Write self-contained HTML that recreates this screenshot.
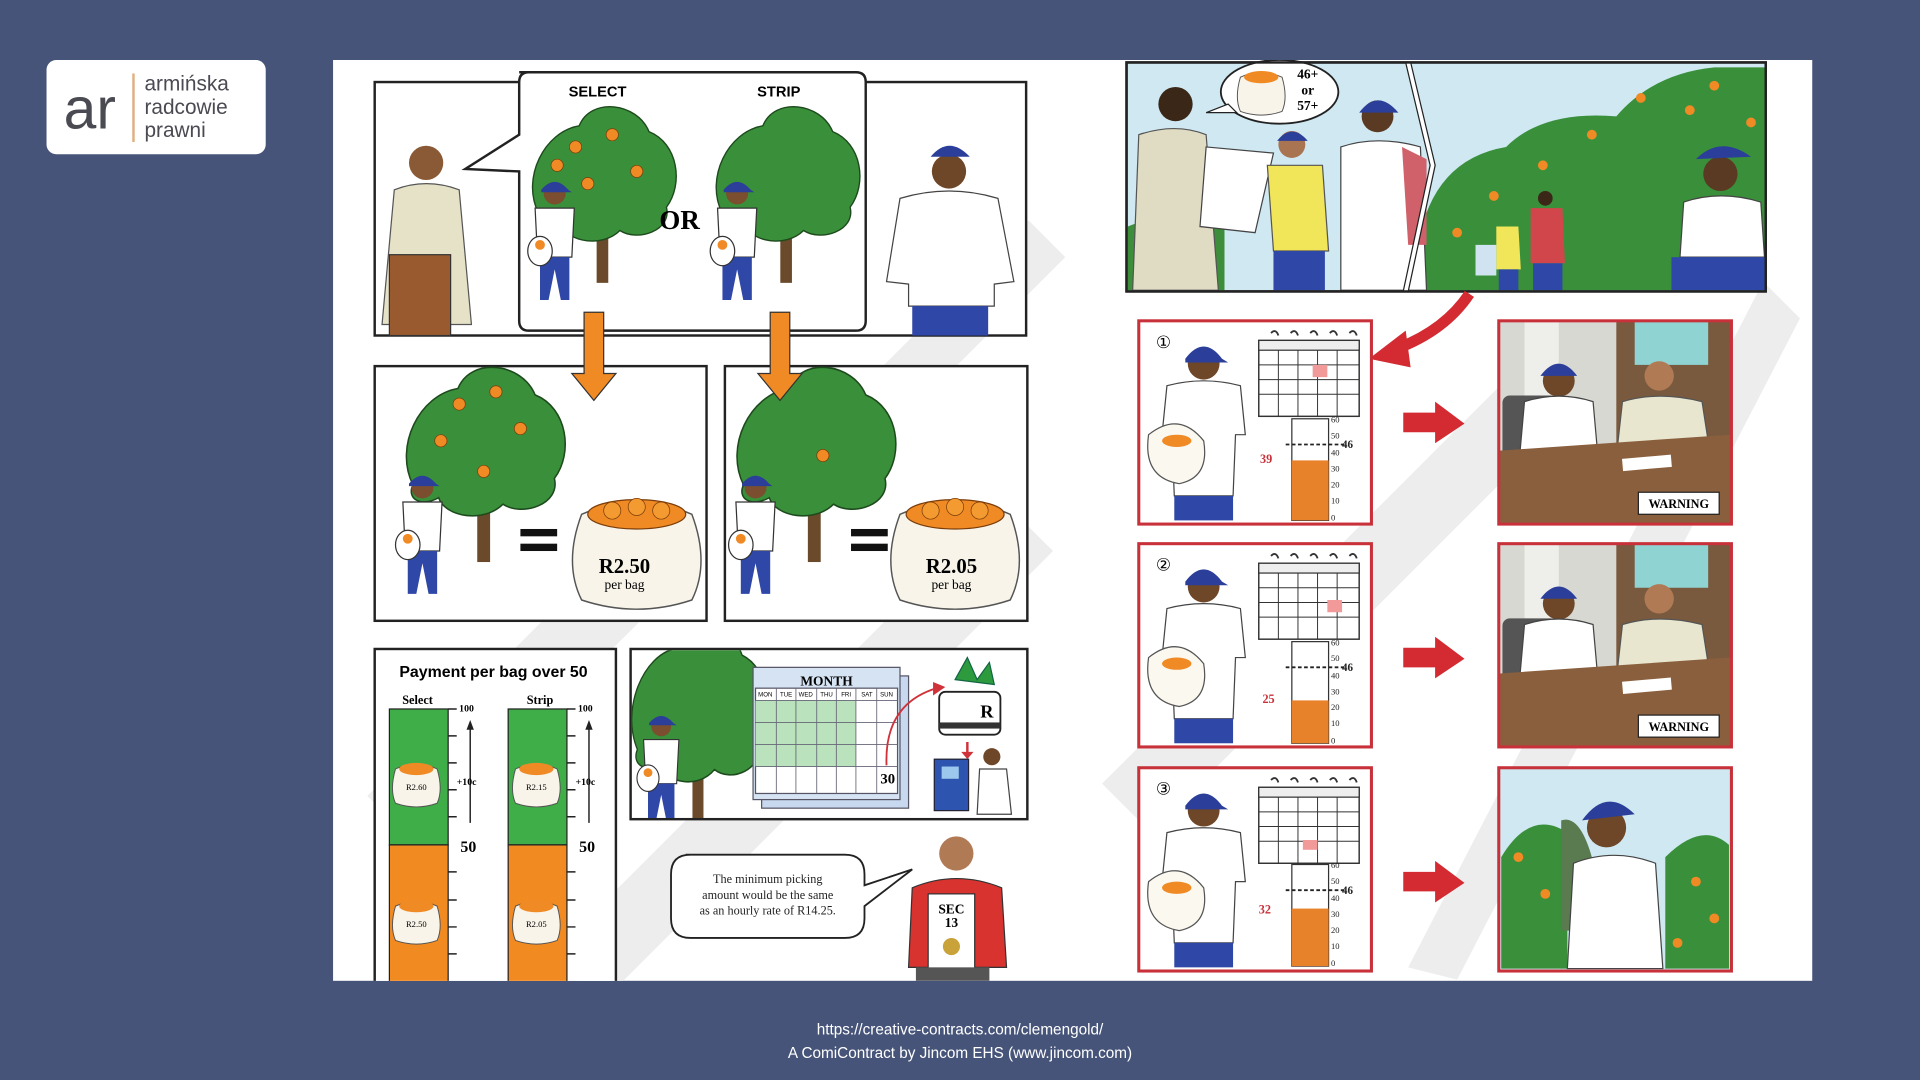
<!DOCTYPE html>
<html><head><meta charset="utf-8"><style>
html,body{margin:0;padding:0;background:#465479;width:1920px;height:1080px;overflow:hidden}
svg{display:block}
</style></head><body>
<svg width="1920" height="1080" viewBox="0 0 1568 882" xmlns="http://www.w3.org/2000/svg" font-family="Liberation Serif, serif">
<defs>
<clipPath id="pg"><rect x="272" y="49" width="1208" height="752"/></clipPath>
<g id="tree">
 <rect x="-5" y="10" width="10" height="70" fill="#6b4a2b"/>
 <path d="M-55 20 C-70 -10 -50 -50 -20 -55 C-10 -80 30 -75 40 -50 C65 -40 70 -5 55 15 C60 35 30 45 15 35 C0 50 -30 45 -35 30 C-50 38 -60 30 -55 20Z" fill="#3a8f3a" stroke="#1d4a1d" stroke-width="1.2"/>
</g>
<g id="orng"><circle r="5" fill="#f08a24" stroke="#7a3d0a" stroke-width=".6"/></g>
<g id="picker">
 <circle cx="0" cy="-52" r="9" fill="#7a4e2e"/>
 <path d="M-11 -55 Q0 -68 11 -55 L14 -53 L-11 -53Z" fill="#2b3e9a"/>
 <path d="M-16 -40 L16 -40 L14 0 L-14 0Z" fill="#fff" stroke="#333" stroke-width="1"/>
 <path d="M-12 0 L-12 35 L-5 35 L0 10 L5 35 L12 35 L12 0Z" fill="#2f48a8"/>
 <ellipse cx="-12" cy="-5" rx="10" ry="12" fill="#fff" stroke="#333" stroke-width="1"/>
 <circle cx="-12" cy="-10" r="4" fill="#f08a24"/>
</g>
<g id="bag">
 <path d="M-45 -30 Q0 -50 45 -30 Q60 10 45 40 Q0 55 -45 40 Q-60 10 -45 -30Z" fill="#f8f4ea" stroke="#555" stroke-width="1.2"/>
 <ellipse cx="0" cy="-30" rx="40" ry="12" fill="#f08a24" stroke="#7a3d0a" stroke-width="1"/>
 <circle cx="-20" cy="-33" r="7" fill="#f39a30" stroke="#7a3d0a" stroke-width=".6"/>
 <circle cx="0" cy="-36" r="7" fill="#f39a30" stroke="#7a3d0a" stroke-width=".6"/>
 <circle cx="20" cy="-33" r="7" fill="#f39a30" stroke="#7a3d0a" stroke-width=".6"/>
</g>
<g id="minibag">
 <path d="M-17 -12 Q0 -20 17 -12 Q22 5 17 16 Q0 22 -17 16 Q-22 5 -17 -12Z" fill="#f8f4ea" stroke="#555" stroke-width=".8"/>
 <ellipse cx="0" cy="-12" rx="14" ry="5" fill="#f08a24"/>
</g>
<g id="cal">
 <rect x="0" y="8" width="82" height="62" fill="#fff" stroke="#333" stroke-width="1.2"/>
 <rect x="0" y="8" width="82" height="8" fill="#eee" stroke="#333" stroke-width="1"/>
 <path d="M0 28H82M0 40H82M0 52H82M16 16V70M32 16V70M48 16V70M64 16V70" stroke="#333" stroke-width=".8"/>
 <path d="M10 2 q4 -4 6 2 M26 2 q4 -4 6 2 M42 2 q4 -4 6 2 M58 2 q4 -4 6 2 M74 2 q4 -4 6 2" stroke="#333" stroke-width="1.5" fill="none"/>
</g>
<g id="worker">
 <circle cx="0" cy="-58" r="13" fill="#6e4628"/>
 <path d="M-15 -62 Q0 -82 15 -62 L20 -59 L-15 -59Z" fill="#2b3e9a"/>
 <path d="M-30 -40 Q0 -48 30 -40 L34 0 L26 0 L24 50 L-24 50 L-26 0 L-34 0Z" fill="#fff" stroke="#444" stroke-width="1"/>
 <rect x="-24" y="50" width="48" height="20" fill="#2f48a8"/>
 <path d="M-45 0 Q-20 -20 0 5 Q5 35 -20 40 Q-50 35 -45 0Z" fill="#fbf8f0" stroke="#555" stroke-width="1"/>
 <ellipse cx="-22" cy="5" rx="12" ry="5" fill="#f08a24"/>
</g>
<g id="office">
 <rect x="0" y="0" width="188" height="164" fill="#d8d8d2"/>
 <rect x="20" y="0" width="28" height="100" fill="#eeeeea"/>
 <rect x="95" y="0" width="93" height="164" fill="#7a5a3e"/>
 <rect x="110" y="0" width="60" height="35" fill="#8fd3d3"/>
 <rect x="2" y="60" width="45" height="60" rx="6" fill="#555"/>
 <circle cx="48" cy="48" r="13" fill="#6e4628"/>
 <path d="M33 44 Q48 24 63 44Z" fill="#2b3e9a"/>
 <path d="M20 65 Q48 56 76 65 L80 110 L16 110Z" fill="#fff" stroke="#444"/>
 <circle cx="130" cy="44" r="12" fill="#b07a54"/>
 <path d="M100 65 Q130 56 165 65 L172 110 L95 110Z" fill="#e8e6cf" stroke="#555"/>
 <path d="M0 105 L188 92 L188 164 L0 164Z" fill="#8a5f3d"/>
 <rect x="100" y="110" width="40" height="10" fill="#fff" transform="rotate(-5 120 115)"/>
</g>
</defs>

<!-- logo -->
<rect x="38" y="49" width="179" height="77" rx="8" fill="#fff"/>
<text x="52" y="105" font-family="Liberation Sans, sans-serif" font-size="48" fill="#4a4a52">ar</text>
<rect x="108" y="60" width="2" height="56" fill="#e0b080"/>
<text font-family="Liberation Sans, sans-serif" font-size="17" fill="#4a4a52"><tspan x="118" y="74">armińska</tspan><tspan x="118" y="93">radcowie</tspan><tspan x="118" y="112">prawni</tspan></text>

<!-- main page -->
<rect x="272" y="49" width="1208" height="752" fill="#fff"/>
<g clip-path="url(#pg)">
<!-- watermark -->
<g fill="#ededed">
 <path d="M300 650 L520 430 L560 470 L340 690Z"/>
 <path d="M450 780 L820 410 L860 450 L490 820Z"/>
 <path d="M900 640 L1250 290 L1290 330 L940 680Z"/>
 <path d="M1150 790 L1440 230 L1470 260 L1190 800Z"/>
 <path d="M620 400 L840 180 L870 210 L650 430Z"/>
</g>

<!-- top-left panel -->
<rect x="306" y="67" width="532" height="207" fill="#fff" stroke="#222" stroke-width="2"/>
<path d="M424 59 H699 Q707 59 707 67 V262 Q707 270 699 270 H432 Q424 270 424 262 V140 L380 138 L424 110 V67 Q424 59 432 59Z" fill="#fff" stroke="#222" stroke-width="2"/>
<text x="488" y="79" font-size="12" font-weight="bold" text-anchor="middle" font-family="Liberation Sans, sans-serif">SELECT</text>
<text x="636" y="79" font-size="12" font-weight="bold" text-anchor="middle" font-family="Liberation Sans, sans-serif">STRIP</text>
<use href="#tree" transform="translate(492,155) scale(.95)"/>
<use href="#tree" transform="translate(642,155) scale(.95)"/>
<use href="#orng" x="470" y="120"/><use href="#orng" x="500" y="110"/><use href="#orng" x="520" y="140"/><use href="#orng" x="480" y="150"/><use href="#orng" x="455" y="135"/>
<use href="#picker" transform="translate(453,210)"/>
<use href="#picker" transform="translate(602,210)"/>
<text x="555" y="187" font-size="22" font-weight="bold" text-anchor="middle">OR</text>
<circle cx="348" cy="133" r="14" fill="#8a5a36"/>
<path d="M322 155 Q348 145 375 155 L385 265 L312 265Z" fill="#e6e2c8" stroke="#555"/>
<rect x="318" y="208" width="50" height="66" fill="#9a5a30" stroke="#333"/>
<circle cx="775" cy="140" r="14" fill="#6e4628"/>
<path d="M760 128 Q775 110 792 128Z" fill="#2b3e9a"/>
<path d="M735 162 Q775 150 815 162 L828 230 L812 232 L812 250 L742 250 L742 232 L724 230Z" fill="#fff" stroke="#444"/>
<rect x="745" y="250" width="62" height="24" fill="#2f48a8"/>

<!-- middle panels -->
<rect x="306" y="299" width="271" height="208" fill="#fff" stroke="#222" stroke-width="2"/>
<rect x="592" y="299" width="247" height="208" fill="#fff" stroke="#222" stroke-width="2"/>
<use href="#tree" transform="translate(395,375) scale(1.05)"/>
<use href="#tree" transform="translate(665,375) scale(1.05)"/>
<use href="#orng" x="375" y="330"/><use href="#orng" x="405" y="320"/><use href="#orng" x="425" y="350"/><use href="#orng" x="360" y="360"/><use href="#orng" x="395" y="385"/><use href="#orng" x="672" y="372"/>
<use href="#picker" transform="translate(345,450)"/>
<use href="#picker" transform="translate(617,450)"/>
<rect x="425" y="432" width="30" height="6" fill="#111"/><rect x="425" y="444" width="30" height="6" fill="#111"/>
<rect x="695" y="432" width="30" height="6" fill="#111"/><rect x="695" y="444" width="30" height="6" fill="#111"/>
<use href="#bag" transform="translate(520,450)"/>
<use href="#bag" transform="translate(780,450)"/>
<text x="510" y="468" font-size="17" font-weight="bold" text-anchor="middle">R2.50</text>
<text x="510" y="481" font-size="11" text-anchor="middle">per bag</text>
<text x="777" y="468" font-size="17" font-weight="bold" text-anchor="middle">R2.05</text>
<text x="777" y="481" font-size="11" text-anchor="middle">per bag</text>
<!-- orange arrows (on top) -->
<path d="M477 255 H493 V305 H503 L485 327 L467 305 H477Z" fill="#f08a24" stroke="#333"/>
<path d="M629 255 H645 V305 H655 L637 327 L619 305 H629Z" fill="#f08a24" stroke="#333"/>

<!-- payment chart -->
<rect x="306" y="530" width="197" height="290" fill="#fff" stroke="#222" stroke-width="2"/>
<text x="403" y="553" font-size="13" font-weight="bold" text-anchor="middle" font-family="Liberation Sans, sans-serif">Payment per bag over 50</text>
<text x="341" y="575" font-size="10" font-weight="bold" text-anchor="middle">Select</text>
<text x="441" y="575" font-size="10" font-weight="bold" text-anchor="middle">Strip</text>
<rect x="318" y="579" width="48" height="111" fill="#3fae48" stroke="#222"/>
<rect x="318" y="690" width="48" height="125" fill="#f28a22" stroke="#222"/>
<rect x="415" y="579" width="48" height="111" fill="#3fae48" stroke="#222"/>
<rect x="415" y="690" width="48" height="125" fill="#f28a22" stroke="#222"/>
<g stroke="#222" stroke-width="1.2">
 <path d="M366 579H373M366 601H373M366 623H373M366 645H373M366 667H373M366 712H373M366 735H373M366 757H373M366 779H373"/>
 <path d="M463 579H470M463 601H470M463 623H470M463 645H470M463 667H470M463 712H470M463 735H470M463 757H470M463 779H470"/>
 <path d="M384 672V592M481 672V592"/>
</g>
<path d="M381 596L384 588L387 596Z M478 596L481 588L484 596Z" fill="#222"/>
<g font-size="8" font-weight="bold"><text x="375" y="581">100</text><text x="472" y="581">100</text>
<text x="373" y="641">+10c</text><text x="470" y="641">+10c</text></g>
<text x="376" y="696" font-size="13" font-weight="bold">50</text><text x="473" y="696" font-size="13" font-weight="bold">50</text>
<use href="#minibag" transform="translate(340,640)"/><use href="#minibag" transform="translate(438,640)"/>
<use href="#minibag" transform="translate(340,752)"/><use href="#minibag" transform="translate(438,752)"/>
<g font-size="7" text-anchor="middle"><text x="340" y="645">R2.60</text><text x="438" y="645">R2.15</text><text x="340" y="757">R2.50</text><text x="438" y="757">R2.05</text></g>

<!-- month panel -->
<rect x="515" y="530" width="324" height="139" fill="#fff" stroke="#222" stroke-width="2"/>
<svg x="516" y="531" width="322" height="137" viewBox="516 531 322 137" overflow="hidden">
<use href="#tree" transform="translate(570,590) scale(.9,1.1)"/>
<use href="#picker" transform="translate(540,640) scale(.9)"/>
</svg>
<rect x="622" y="552" width="120" height="108" fill="#c8d8ee" stroke="#556"/>
<rect x="615" y="545" width="120" height="108" fill="#d6e3f3" stroke="#556"/>
<text x="675" y="560" font-size="11" font-weight="bold" text-anchor="middle">MONTH</text>
<rect x="617" y="562" width="116" height="86" fill="#fff" stroke="#556"/>
<rect x="617" y="572" width="82" height="54" fill="#b9e2bd"/>
<path d="M617 572H733M617 590H733M617 608H733M617 626H733M634 562V648M650 562V648M667 562V648M683 562V648M699 562V648M716 562V648" stroke="#667" stroke-width=".7"/>
<g font-size="5" font-family="Liberation Sans, sans-serif" text-anchor="middle"><text x="625" y="569">MON</text><text x="642" y="569">TUE</text><text x="658" y="569">WED</text><text x="675" y="569">THU</text><text x="691" y="569">FRI</text><text x="708" y="569">SAT</text><text x="724" y="569">SUN</text></g>
<text x="725" y="640" font-size="12" font-weight="bold" text-anchor="middle">30</text>
<path d="M724 625 Q722 575 765 562" stroke="#d0323a" stroke-width="1.5" fill="none"/>
<path d="M762 557 L772 561 L762 568Z" fill="#d0323a"/>
<path d="M780 555 l10 -18 l8 18 l10 -14 l4 18z" fill="#2e9a3e" stroke="#164"/>
<rect x="767" y="565" width="50" height="35" rx="5" fill="#fff" stroke="#222" stroke-width="1.5"/>
<rect x="767" y="590" width="50" height="5" fill="#333"/>
<text x="806" y="586" font-size="15" font-weight="bold" text-anchor="middle">R</text>
<rect x="763" y="620" width="28" height="42" fill="#2d55b0" stroke="#223"/>
<rect x="769" y="626" width="14" height="10" fill="#9cc8ee"/>
<circle cx="810" cy="618" r="7" fill="#6e4628"/>
<path d="M800 628 L822 628 L826 665 L798 665Z" fill="#fff" stroke="#444"/>
<path d="M789 606 v8 h-4 l5 6 l5 -6 h-4 v-8z" fill="#d0323a"/>

<!-- speech bubble and man -->
<path d="M560 698 H690 Q706 698 706 714 V723 L745 710 L706 740 V750 Q706 766 690 766 H564 Q548 766 548 750 V714 Q548 698 564 698Z" fill="#fff" stroke="#222" stroke-width="1.5"/>
<g font-size="10" text-anchor="middle" fill="#222"><text x="627" y="721">The minimum picking</text><text x="627" y="734">amount would be the same</text><text x="627" y="747">as an hourly rate of R14.25.</text></g>
<circle cx="781" cy="697" r="14" fill="#b07a54"/>
<path d="M745 725 Q781 710 818 725 L822 790 L742 790Z" fill="#d8332e" stroke="#333"/>
<rect x="758" y="730" width="38" height="62" fill="#fff" stroke="#333"/>
<text x="777" y="746" font-size="11" font-weight="bold" text-anchor="middle">SEC</text>
<text x="777" y="757" font-size="11" font-weight="bold" text-anchor="middle">13</text>
<circle cx="777" cy="773" r="7" fill="#c9a23a"/>
<rect x="748" y="790" width="60" height="11" fill="#555"/>

<!-- top right scene -->
<rect x="920" y="51" width="522" height="187" fill="#cfe8f2" stroke="#222" stroke-width="2"/>
<path d="M921 185 L960 170 L1000 180 L1000 237 L921 237Z" fill="#3d8e3a"/>
<path d="M1158 200 Q1170 130 1230 120 Q1260 90 1320 95 Q1350 60 1400 55 L1441 55 L1441 237 L1155 237Z" fill="#3a8f3a"/>
<g fill="#f08a24"><circle cx="1260" cy="135" r="4"/><circle cx="1300" cy="110" r="4"/><circle cx="1340" cy="80" r="4"/><circle cx="1400" cy="70" r="4"/><circle cx="1220" cy="160" r="4"/><circle cx="1190" cy="190" r="4"/><circle cx="1430" cy="100" r="4"/><circle cx="1380" cy="90" r="4"/></g>
<circle cx="960" cy="85" r="14" fill="#3a2718"/>
<path d="M930 110 Q960 100 985 110 L995 237 L925 237Z" fill="#e0dcc4" stroke="#555"/>
<path d="M985 120 L1040 125 L1025 190 L980 185Z" fill="#fff" stroke="#444"/>
<circle cx="1055" cy="118" r="11" fill="#a97452"/><path d="M1043 115 Q1055 100 1068 115Z" fill="#2b3e9a"/>
<path d="M1035 135 L1080 135 L1085 205 L1040 205Z" fill="#f1e55a" stroke="#555"/>
<rect x="1040" y="205" width="42" height="32" fill="#2f48a8"/>
<circle cx="1125" cy="95" r="13" fill="#5a3a22"/><path d="M1110 92 Q1125 72 1142 92Z" fill="#2b3e9a"/>
<path d="M1095 120 Q1125 110 1160 120 L1165 237 L1095 237Z" fill="#fff" stroke="#444"/>
<path d="M1145 120 L1165 130 L1165 200 L1150 200Z" fill="#d0606a"/>
<path d="M1150 51 L1170 135 L1148 238" stroke="#222" stroke-width="5" fill="none"/>
<path d="M1150 51 L1170 135 L1148 238" stroke="#fff" stroke-width="3" fill="none"/>
<ellipse cx="1045" cy="75" rx="48" ry="26" fill="#fff" stroke="#222" stroke-width="1.5"/>
<path d="M1003 85 L985 92 L1010 92Z" fill="#fff" stroke="#222"/>
<use href="#minibag" transform="translate(1030,75)"/>
<g font-size="11" font-weight="bold" text-anchor="middle"><text x="1068" y="64">46+</text><text x="1068" y="77">or</text><text x="1068" y="90">57+</text></g>
<circle cx="1262" cy="162" r="6" fill="#3a2718"/><path d="M1250 170 L1276 170 L1278 215 L1250 215Z" fill="#d0464a"/><rect x="1252" y="215" width="24" height="22" fill="#2f48a8"/>
<path d="M1222 185 L1240 185 L1242 220 L1222 220Z" fill="#f1e55a"/><rect x="1224" y="220" width="16" height="17" fill="#2f48a8"/>
<path d="M1205 200 L1222 200 L1222 225 L1205 225Z" fill="#cfe4f0"/>
<circle cx="1405" cy="142" r="14" fill="#5a3a22"/><path d="M1385 130 Q1405 110 1430 128Z" fill="#2b3e9a"/>
<path d="M1375 165 Q1405 155 1438 165 L1441 210 L1372 210Z" fill="#fff" stroke="#444"/>
<rect x="1365" y="210" width="76" height="27" fill="#2f48a8"/>
<rect x="920" y="51" width="522" height="187" fill="none" stroke="#222" stroke-width="2"/>

<!-- red curved arrow -->
<path d="M1200 240 Q1180 270 1140 285" stroke="#d42a32" stroke-width="9" fill="none"/>
<path d="M1148 270 L1118 293 L1152 300Z" fill="#d42a32"/>

<!-- rows -->
<rect x="930" y="262" width="190" height="166" fill="#fff" stroke="#c8313a" stroke-width="2.5"/>
<rect x="930" y="444" width="190" height="166" fill="#fff" stroke="#c8313a" stroke-width="2.5"/>
<rect x="930" y="627" width="190" height="166" fill="#fff" stroke="#c8313a" stroke-width="2.5"/>
<use href="#worker" transform="translate(983,355)"/>
<use href="#worker" transform="translate(983,537)"/>
<use href="#worker" transform="translate(983,720)"/>
<use href="#cal" transform="translate(1028,270)"/>
<use href="#cal" transform="translate(1028,452)"/>
<use href="#cal" transform="translate(1028,635)"/>
<rect x="1072" y="298" width="12" height="10" fill="#f29a9a"/>
<rect x="1084" y="490" width="12" height="10" fill="#f29a9a"/>
<rect x="1064" y="686" width="12" height="8" fill="#f29a9a"/>
<text x="944" y="284" font-size="14" font-family="Liberation Sans">①</text>
<text x="944" y="466" font-size="14" font-family="Liberation Sans">②</text>
<text x="944" y="649" font-size="14" font-family="Liberation Sans">③</text>
<g stroke="#333" stroke-width="1" fill="#fff">
 <rect x="1055" y="342" width="30" height="83"/><rect x="1055" y="524" width="30" height="83"/><rect x="1055" y="706" width="30" height="83"/>
</g>
<rect x="1055" y="376" width="30" height="49" fill="#e8822a"/>
<rect x="1055" y="572" width="30" height="35" fill="#e8822a"/>
<rect x="1055" y="742" width="30" height="47" fill="#e8822a"/>
<g stroke="#222" stroke-width="1.5" stroke-dasharray="3 2"><path d="M1050 363H1098M1050 545H1098M1050 727H1098"/></g>
<g font-size="7" fill="#222"><text x="1087" y="345">60</text><text x="1087" y="358">50</text><text x="1096" y="366" font-size="9" font-weight="bold">46</text><text x="1087" y="372">40</text><text x="1087" y="385">30</text><text x="1087" y="398">20</text><text x="1087" y="411">10</text><text x="1087" y="425">0</text>
<text x="1087" y="527">60</text><text x="1087" y="540">50</text><text x="1096" y="548" font-size="9" font-weight="bold">46</text><text x="1087" y="554">40</text><text x="1087" y="567">30</text><text x="1087" y="580">20</text><text x="1087" y="593">10</text><text x="1087" y="607">0</text>
<text x="1087" y="709">60</text><text x="1087" y="722">50</text><text x="1096" y="730" font-size="9" font-weight="bold">46</text><text x="1087" y="736">40</text><text x="1087" y="749">30</text><text x="1087" y="762">20</text><text x="1087" y="775">10</text><text x="1087" y="789">0</text></g>
<g font-size="10" font-weight="bold" fill="#c8313a"><text x="1029" y="378">39</text><text x="1031" y="574">25</text><text x="1028" y="746">32</text></g>
<path d="M1146 337 H1172 V328 L1196 346 L1172 362 V353 H1146Z" fill="#d42a32"/>
<path d="M1146 529 H1172 V520 L1196 538 L1172 554 V545 H1146Z" fill="#d42a32"/>
<path d="M1146 712 H1172 V703 L1196 721 L1172 737 V728 H1146Z" fill="#d42a32"/>
<use href="#office" transform="translate(1225,263)"/>
<use href="#office" transform="translate(1225,445)"/>
<rect x="1224" y="262" width="190" height="166" fill="none" stroke="#c8313a" stroke-width="2.5"/>
<rect x="1224" y="444" width="190" height="166" fill="none" stroke="#c8313a" stroke-width="2.5"/>
<rect x="1338" y="402" width="66" height="18" fill="#fff" stroke="#222"/>
<text x="1371" y="415" font-size="10" font-weight="bold" text-anchor="middle">WARNING</text>
<rect x="1338" y="584" width="66" height="18" fill="#fff" stroke="#222"/>
<text x="1371" y="597" font-size="10" font-weight="bold" text-anchor="middle">WARNING</text>
<rect x="1224" y="627" width="190" height="166" fill="#cfe8f2"/>
<path d="M1226 700 Q1250 660 1280 680 L1280 791 L1226 791Z" fill="#3a8f3a"/>
<path d="M1360 700 Q1390 670 1412 690 L1412 791 L1360 791Z" fill="#3a8f3a"/>
<g fill="#f08a24"><circle cx="1240" cy="700" r="4"/><circle cx="1262" cy="730" r="4"/><circle cx="1385" cy="720" r="4"/><circle cx="1400" cy="750" r="4"/><circle cx="1370" cy="770" r="4"/></g>
<circle cx="1312" cy="676" r="16" fill="#6e4628"/>
<path d="M1292 670 Q1312 642 1335 665Z" fill="#2b3e9a"/>
<path d="M1275 670 Q1290 665 1300 700 L1295 760 L1275 760Z" fill="#5a7a50"/>
<path d="M1285 705 Q1318 692 1352 705 L1358 791 L1280 791Z" fill="#fff" stroke="#444"/>
<rect x="1224" y="627" width="190" height="166" fill="none" stroke="#c8313a" stroke-width="2.5"/>
</g>

<!-- footer -->
<g font-family="Liberation Sans, sans-serif" font-size="12.5" fill="#fff" text-anchor="middle">
<text x="784" y="845">https://creative-contracts.com/clemengold/</text>
<text x="784" y="864">A ComiContract by Jincom EHS (www.jincom.com)</text>
</g>
</svg>
</body></html>
